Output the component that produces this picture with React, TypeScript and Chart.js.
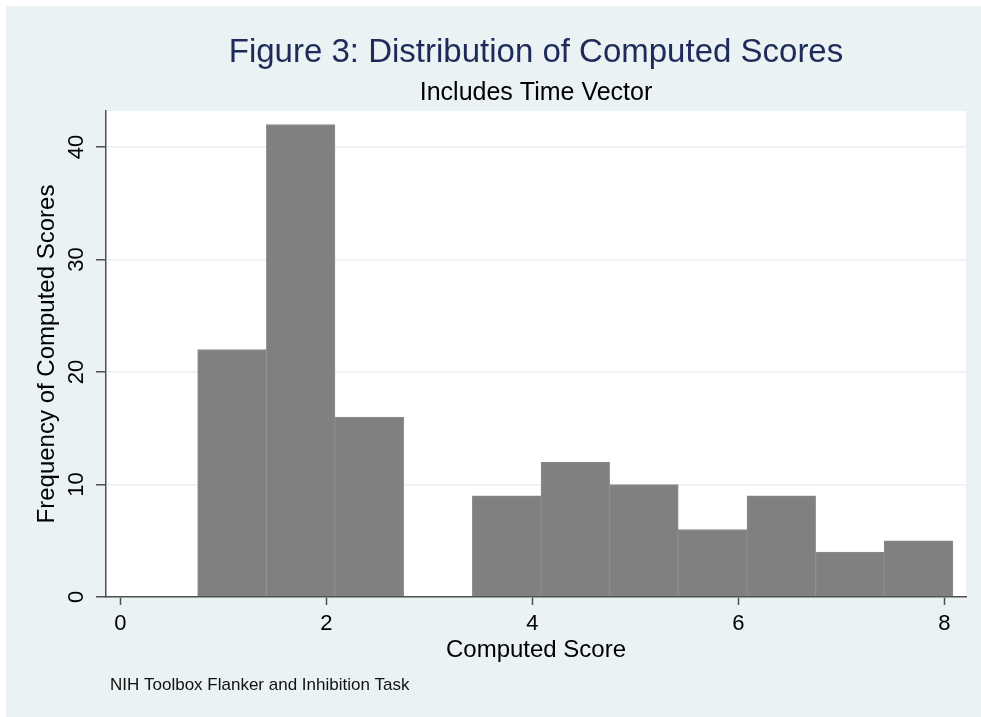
import React, { useEffect, useRef } from "react";
import { Chart, registerables } from "chart.js";

Chart.register(...registerables);

// ---- data ----
const BIN_CENTERS = [1.083, 1.75, 2.417, 3.083, 3.75, 4.417, 5.083, 5.75, 6.417, 7.083, 7.75];
const FREQUENCIES = [22, 42, 16, 0, 9, 12, 10, 6, 9, 4, 5];
const X_TICKS = [0, 2, 4, 6, 8];
const Y_TICKS = [0, 10, 20, 30, 40];
const X_RANGE = [-0.14, 8.21];
const Y_RANGE = [0, 43.2];

const TITLE = "Figure 3: Distribution of Computed Scores";
const SUBTITLE = "Includes Time Vector";
const X_TITLE = "Computed Score";
const Y_TITLE = "Frequency of Computed Scores";
const CAPTION = "NIH Toolbox Flanker and Inhibition Task";

const FONT = '"Liberation Sans", Arial, Helvetica, sans-serif';
const BG = "#EAF2F3";
const AXIS = "#4f4f4f";

const decorPlugin = {
  id: "decor",
  beforeDraw(chart: any) {
    const { ctx, width, height, chartArea } = chart;
    ctx.save();
    ctx.fillStyle = "#ffffff";
    ctx.fillRect(0, 0, width, height);
    ctx.fillStyle = BG;
    ctx.fillRect(6, 6, width - 6, height - 6);
    ctx.fillStyle = "#ffffff";
    ctx.fillRect(chartArea.left, chartArea.top, chartArea.right - chartArea.left, chartArea.bottom - chartArea.top);
    ctx.restore();
  },
  afterDraw(chart: any) {
    const { ctx, chartArea } = chart;
    const cx = (chartArea.left + chartArea.right) / 2;
    ctx.save();
    ctx.textAlign = "center";
    ctx.textBaseline = "alphabetic";
    ctx.fillStyle = "#1E2A5A";
    ctx.font = `33px ${FONT}`;
    ctx.fillText(TITLE, cx, 62);
    ctx.fillStyle = "#000000";
    ctx.font = `25px ${FONT}`;
    ctx.fillText(SUBTITLE, cx, 100);
    ctx.textAlign = "left";
    ctx.fillStyle = "#111111";
    ctx.font = `17px ${FONT}`;
    ctx.fillText(CAPTION, 110, 690);
    ctx.restore();
  },
};

export default function App() {
  const ref = useRef<HTMLCanvasElement | null>(null);

  useEffect(() => {
    if (!ref.current) return;
    const chart = new Chart(ref.current, {
      type: "bar",
      data: {
        datasets: [
          {
            data: BIN_CENTERS.map((x, i) => ({ x, y: FREQUENCIES[i] })),
            backgroundColor: "#808080",
            borderColor: "#8b8b8b",
            borderWidth: 1,
            barPercentage: 1,
            categoryPercentage: 1,
          },
        ],
      },
      options: {
        animation: false,
        responsive: false,
        events: [],
        layout: { padding: { top: 111, right: 15, left: 0, bottom: 0 } },
        plugins: {
          legend: { display: false },
          tooltip: { enabled: false },
          title: { display: false },
        },
        scales: {
          x: {
            type: "linear",
            min: X_RANGE[0],
            max: X_RANGE[1],
            offset: false,
            afterBuildTicks: (s: any) => {
              s.ticks = X_TICKS.map((v) => ({ value: v }));
            },
            afterFit: (s: any) => {
              s.height = 120;
            },
            grid: {
              offset: false,
              drawOnChartArea: false,
              drawTicks: true,
              tickLength: 8,
              tickColor: AXIS,
              tickWidth: 1.5,
            },
            border: { display: true, color: AXIS, width: 1.5 },
            ticks: {
              color: "#000",
              font: { family: FONT, size: 22 },
              padding: 6,
              maxRotation: 0,
              minRotation: 0,
            },
            title: {
              display: true,
              text: X_TITLE,
              color: "#000",
              font: { family: FONT, size: 24 },
              padding: { top: 0, bottom: 52 },
            },
          },
          y: {
            type: "linear",
            min: Y_RANGE[0],
            max: Y_RANGE[1],
            afterBuildTicks: (s: any) => {
              s.ticks = Y_TICKS.map((v) => ({ value: v }));
            },
            afterFit: (s: any) => {
              s.width = 106;
            },
            grid: {
              color: "#E9F0F1",
              lineWidth: 1.5,
              drawTicks: true,
              tickLength: 10,
              tickColor: AXIS,
              tickWidth: 1.5,
            },
            border: { display: true, color: AXIS, width: 1.5 },
            ticks: {
              color: "#000",
              font: { family: FONT, size: 22 },
              padding: 7,
              minRotation: 90,
              maxRotation: 90,
              crossAlign: "center",
            },
            title: {
              display: true,
              text: Y_TITLE,
              color: "#000",
              font: { family: FONT, size: 24 },
              padding: { top: 33, bottom: 0 },
            },
          },
        },
      },
      plugins: [decorPlugin],
    } as any);
    return () => chart.destroy();
  }, []);

  return (
    <div style={{ position: "fixed", left: 0, top: 0, width: 981, height: 717 }}>
      <canvas ref={ref} width={981} height={717} style={{ width: 981, height: 717, display: "block" }} />
    </div>
  );
}
